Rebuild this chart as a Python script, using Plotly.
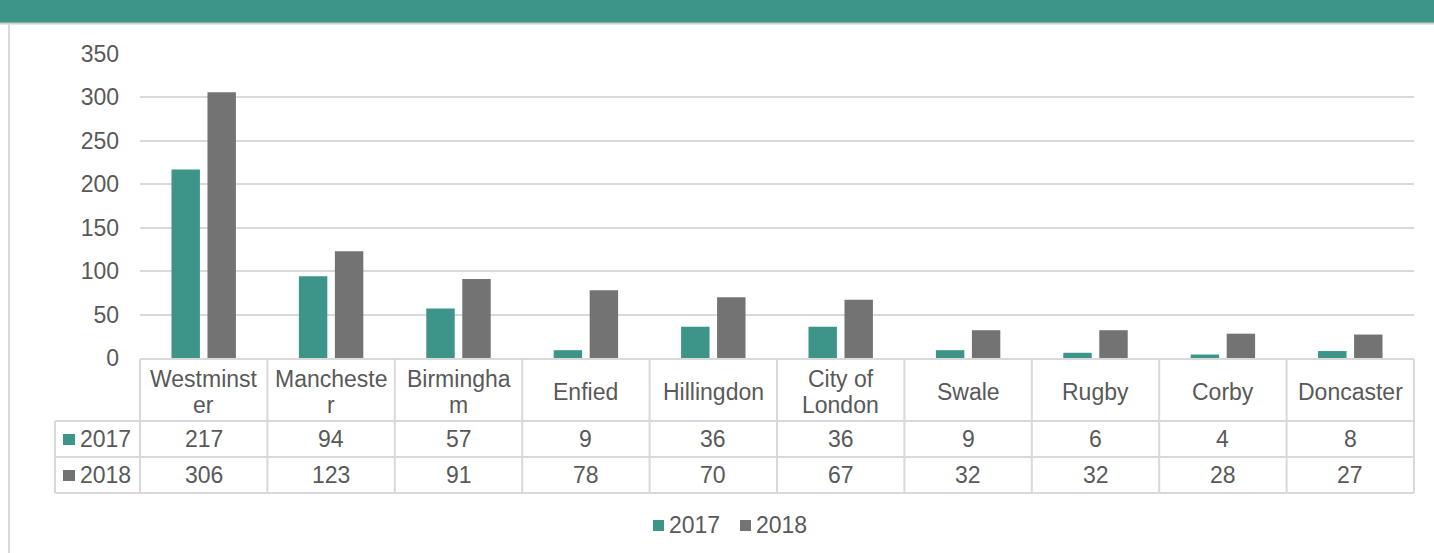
import plotly.graph_objects as go

# ---- data ----
categories = ["Westminster", "Manchester", "Birmingham", "Enfied", "Hillingdon",
              "City of London", "Swale", "Rugby", "Corby", "Doncaster"]
header_labels = [["Westminst", "er"], ["Mancheste", "r"], ["Birmingha", "m"], ["Enfied"], ["Hillingdon"],
                 ["City of", "London"], ["Swale"], ["Rugby"], ["Corby"], ["Doncaster"]]
series_names = ["2017", "2018"]
values_2017 = [217, 94, 57, 9, 36, 36, 9, 6, 4, 8]
values_2018 = [306, 123, 91, 78, 70, 67, 32, 32, 28, 27]
y_ticks = [0, 50, 100, 150, 200, 250, 300, 350]

# ---- style ----
TEAL = "#3D9489"
GREY = "#737373"
TXT = "#595959"
LINE = "#D9D9D9"
FONT = "Liberation Sans, Arial, sans-serif"
FS = 23

W, H = 1434, 553
L, R, T, B = 140, 20, 54, 195
PW, PH = W - L - R, H - T - B


def xp(px):
    return (px - L) / PW


def yp(py):
    return (H - B - py) / PH


fig = go.Figure()
colors = [TEAL, GREY]
for name, vals, c in zip(series_names, [values_2017, values_2018], colors):
    fig.add_trace(go.Bar(x=categories, y=vals, name=name, marker=dict(color=c, line=dict(width=0)),
                         showlegend=False))

shapes = []
annotations = []


def txt(x, y, s, anchor="center"):
    annotations.append(dict(xref="paper", yref="paper", x=xp(x), y=yp(y), text=s,
                            showarrow=False, xanchor=anchor, yanchor="middle",
                            font=dict(size=FS, color=TXT, family=FONT)))


# header band
shapes.append(dict(type="rect", xref="paper", yref="paper", x0=xp(-2), x1=xp(W + 2), y0=yp(23), y1=yp(-2),
                   fillcolor=TEAL, line=dict(width=0), layer="below"))
shapes.append(dict(type="line", xref="paper", yref="paper", x0=xp(0), x1=xp(W), y0=yp(23.5), y1=yp(23.5),
                   line=dict(color="#CFCFCF", width=2)))
# left frame line
shapes.append(dict(type="line", xref="paper", yref="paper", x0=xp(9), x1=xp(9), y0=yp(24), y1=yp(H + 2),
                   line=dict(color="#DADADA", width=2)))

# data table
n = len(categories)
colw = PW / n
top, r1, r2, bot = 359, 421, 457, 493
tl = 55
for yy, x0 in [(top, L), (r1, tl), (r2, tl), (bot, tl)]:
    shapes.append(dict(type="line", xref="paper", yref="paper", x0=xp(x0), x1=xp(L + PW),
                       y0=yp(yy), y1=yp(yy), line=dict(color=LINE, width=2)))
for i in range(n + 1):
    xx = L + i * colw
    shapes.append(dict(type="line", xref="paper", yref="paper", x0=xp(xx), x1=xp(xx),
                       y0=yp(top), y1=yp(bot), line=dict(color=LINE, width=2)))
shapes.append(dict(type="line", xref="paper", yref="paper", x0=xp(tl), x1=xp(tl),
                   y0=yp(r1), y1=yp(bot), line=dict(color=LINE, width=2)))

for i, lines in enumerate(header_labels):
    cx = L + (i + 0.5) * colw
    if len(lines) == 1:
        txt(cx, 392, lines[0])
    else:
        txt(cx, 379, lines[0])
        txt(cx, 405, lines[1])

for rowvals, (ya, yb), name, c in zip([values_2017, values_2018], [(r1, r2), (r2, bot)], series_names, colors):
    cy = (ya + yb) / 2
    for i, v in enumerate(rowvals):
        txt(L + (i + 0.5) * colw, cy, str(v))
    shapes.append(dict(type="rect", xref="paper", yref="paper", x0=xp(63), x1=xp(75),
                       y0=yp(cy + 6), y1=yp(cy - 5), fillcolor=c, line=dict(width=0)))
    txt(78, cy, name, anchor="left")

# bottom legend
for name, c, sx in zip(series_names, colors, [653, 740]):
    shapes.append(dict(type="rect", xref="paper", yref="paper", x0=xp(sx), x1=xp(sx + 11),
                       y0=yp(531), y1=yp(520), fillcolor=c, line=dict(width=0)))
    txt(sx + 14, 525, name, anchor="left")

fig.update_layout(
    width=W, height=H,
    margin=dict(l=L, r=R, t=T, b=B),
    paper_bgcolor="white", plot_bgcolor="white",
    barmode="group", bargap=0.435, bargroupgap=0.21,
    font=dict(family=FONT, size=FS, color=TXT),
    showlegend=False,
    xaxis=dict(showticklabels=False, showgrid=False, zeroline=False, showline=False, ticks=""),
    yaxis=dict(range=[0, 350], tickvals=y_ticks, showgrid=True, gridcolor=LINE, gridwidth=1.5,
               zeroline=False, showline=False, ticks="", ticklabelstandoff=20,
               tickfont=dict(size=FS, color=TXT, family=FONT)),
    shapes=shapes, annotations=annotations,
)

fig.write_html("out.html", config={"displayModeBar": False},
               post_script="document.body.style.margin='0';document.body.style.overflow='hidden';")
